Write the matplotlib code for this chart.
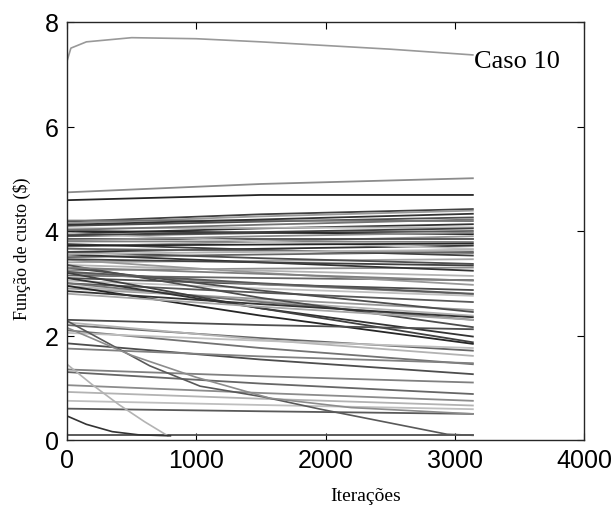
import numpy as np
import matplotlib
matplotlib.use("Agg")
import matplotlib.pyplot as plt

# iteration where all runs stop
x_end = 3140
x_mid = 1500

# nearly straight runs: value at start, at 1500 and at the end, plus gray level
start_vals = [4.74, 4.59, 4.18, 4.15, 4.10, 4.20, 3.95, 4.05, 3.90, 4.00, 3.70, 3.85,
              3.80, 3.60, 3.95, 3.50, 3.75, 3.40, 3.60, 3.25, 3.55, 3.35, 3.15, 3.45,
              3.10, 3.20, 3.05, 3.00, 2.90, 3.30, 2.95, 3.00, 3.35, 3.10, 3.20, 2.95,
              2.20, 2.25, 2.10, 1.85, 1.35, 1.30, 1.05, 0.92, 0.75, 0.60, 0.09,
              4.12, 4.02, 3.92, 3.82, 3.72, 3.66, 3.56, 3.46, 3.30, 3.22, 2.85, 2.80,
              2.30, 2.05, 1.75]
mid_vals = [4.90, 4.69, 4.32, 4.28, 4.18, 4.20, 4.05, 4.06, 3.96, 3.97, 3.80, 3.85,
            3.80, 3.66, 3.80, 3.55, 3.64, 3.43, 3.48, 3.28, 3.40, 3.24, 3.10, 3.20,
            2.98, 2.98, 2.90, 2.82, 2.70, 2.86, 2.66, 2.64, 2.72, 2.52, 2.52, 2.38,
            1.95, 1.92, 1.76, 1.54, 1.22, 1.08, 0.90, 0.79, 0.67, 0.55, 0.09,
            4.22, 4.12, 3.98, 3.90, 3.74, 3.62, 3.60, 3.40, 3.18, 3.00, 2.60, 2.55,
            2.20, 1.90, 1.60]
end_vals = [5.01, 4.69, 4.42, 4.39, 4.26, 4.19, 4.13, 4.07, 4.00, 3.94, 3.90, 3.85,
            3.79, 3.72, 3.66, 3.60, 3.53, 3.46, 3.37, 3.30, 3.24, 3.14, 3.06, 2.97,
            2.87, 2.79, 2.76, 2.64, 2.49, 2.45, 2.38, 2.30, 2.16, 1.98, 1.87, 1.84,
            1.71, 1.61, 1.45, 1.26, 1.10, 0.88, 0.75, 0.66, 0.59, 0.50, 0.09,
            4.33, 4.22, 4.05, 3.97, 3.76, 3.58, 3.64, 3.34, 3.05, 2.80, 2.35, 2.30,
            2.12, 1.76, 1.47]
grays = [0.55, 0.15, 0.25, 0.60, 0.30, 0.45, 0.20, 0.70, 0.35, 0.15, 0.60, 0.30,
         0.50, 0.20, 0.75, 0.40, 0.25, 0.65, 0.30, 0.55, 0.20, 0.70, 0.40, 0.60,
         0.30, 0.50, 0.75, 0.35, 0.60, 0.30, 0.70, 0.45, 0.30, 0.20, 0.25, 0.15,
         0.40, 0.70, 0.45, 0.30, 0.50, 0.40, 0.55, 0.70, 0.75, 0.35, 0.30,
         0.20, 0.45, 0.25, 0.55, 0.15, 0.40, 0.70, 0.25, 0.50, 0.35, 0.20, 0.65,
         0.30, 0.75, 0.50]

# curved runs
top_x = [0, 30, 150, 500, 1000, 1500, 2000, 2500, 3140]
top_y = [7.25, 7.50, 7.62, 7.70, 7.68, 7.62, 7.55, 7.48, 7.37]
fall1_x = [0, 640, 1030, 1530, 1960, 2940, 3140]
fall1_y = [2.28, 1.42, 1.03, 0.82, 0.59, 0.11, 0.09]
fall2_x = [0, 500, 1000, 1570, 2200, 3140]
fall2_y = [2.15, 1.62, 1.20, 0.80, 0.62, 0.50]
fall3_x = [0, 200, 400, 600, 780]
fall3_y = [1.45, 1.05, 0.68, 0.35, 0.08]
fall4_x = [0, 150, 350, 550, 800]
fall4_y = [0.46, 0.30, 0.16, 0.10, 0.08]

fig = plt.figure(figsize=(6.16, 5.06), dpi=100)
ax = fig.add_axes([67/616, 65/506, 517/616, 418/506])

for s, m, e, g in zip(start_vals, mid_vals, end_vals, grays):
    ax.plot([0, x_mid, x_end], [s, m, e], color=str(g), lw=1.3)

ax.plot(top_x, top_y, color='0.6', lw=1.2)
ax.plot(fall1_x, fall1_y, color='0.35', lw=1.2)
ax.plot(fall2_x, fall2_y, color='0.55', lw=1.2)
ax.plot(fall3_x, fall3_y, color='0.7', lw=1.2)
ax.plot(fall4_x, fall4_y, color='0.2', lw=1.2)

ax.set_xlim(0, 4000)
ax.set_ylim(0, 8)
ax.set_xticks([0, 1000, 2000, 3000, 4000])
ax.set_yticks([0, 2, 4, 6, 8])
ax.tick_params(direction='in', top=True, right=True, length=5, width=0.8,
               labelsize=18, pad=6)
for lab in ax.get_xticklabels() + ax.get_yticklabels():
    lab.set_family('Liberation Sans')
for sp in ax.spines.values():
    sp.set_linewidth(1.0)
    sp.set_color('0.15')

ax.text(3150, 7.25, 'Caso 10', family='Liberation Serif', fontsize=19,
        ha='left', va='center')
fig.text(366/616, 1 - 497/506, 'Iterações', family='Liberation Serif',
         fontsize=14, ha='center', va='center')
fig.text(22/616, 1 - 249/506, 'Função de custo ($)', family='Liberation Serif',
         fontsize=13, ha='center', va='center', rotation=90)

fig.savefig('out.png', dpi=100)
